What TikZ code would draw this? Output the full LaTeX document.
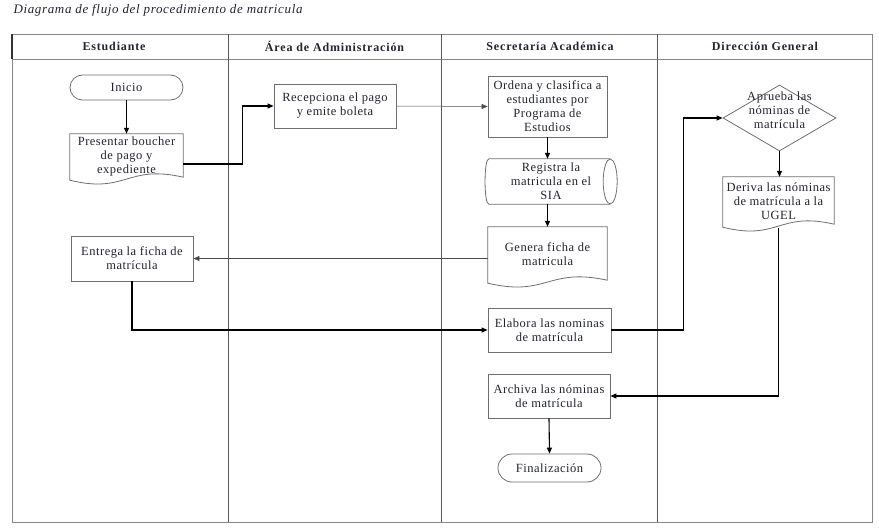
\documentclass[tikz,border=0pt]{standalone}
\usepackage{fontspec}
\setmainfont{Liberation Serif}[LetterSpace=4]
\newfontfamily\hdrfont{Liberation Serif}[LetterSpace=7]
\newfontfamily\ttlfont{Liberation Serif}[LetterSpace=5]
\usetikzlibrary{calc,shapes.geometric,arrows.meta}
\definecolor{txt}{RGB}{35,35,50}
\definecolor{frm}{RGB}{135,135,135}
\definecolor{shpc}{RGB}{110,110,110}
\newcommand\docpath[1]{\draw[shp] (#1.north west) -- (#1.north east) -- ($(#1.south east)+(0,-1)$) .. controls ($(#1.south)+(0,-14)$) and ($(#1.south)+(0,16)$) .. ($(#1.south west)+(0,2)$) -- cycle;}
\begin{document}
\begin{tikzpicture}[x=1pt,y=-1pt,
 every node/.style={text=txt,font=\fontsize{12.5}{14}\selectfont},
 box/.style={draw=shpc,line width=0.8pt,rectangle,inner sep=0pt,align=center},
 plain/.style={rectangle,inner sep=0pt,align=center},
 term/.style={draw=shpc,line width=0.8pt,rectangle,inner sep=0pt,align=center},
 hdr/.style={font={\hdrfont\fontsize{12}{14}\selectfont\bfseries}},
 shp/.style={draw=shpc,line width=0.8pt},
 arr/.style={draw=black,line width=1.1pt,-{Triangle[length=6pt,width=5pt]}},
 thinarr/.style={draw=black!70,line width=0.5pt,-{Triangle[length=6pt,width=5pt]}},
 lane/.style={draw=frm,line width=1pt}]
\useasboundingbox (0,0) rectangle (879,530);
% title
\node[anchor=west,font={\ttlfont\fontsize{13}{15}\selectfont\itshape}] (ttl) at (10,10) {Diagrama de flujo del procedimiento de matricula};
% lanes
\draw[lane] (12,34) rectangle (872,522);
\draw[lane] (12,59) -- (872,59);
\draw[lane,draw=black!65] (228,34) -- (228,522);
\draw[lane,draw=black!65] (441,34) -- (441,522);
\draw[lane,draw=black!65] (657,34) -- (657,522);
\draw[line width=1.6pt,black!80] (12,34) -- (12,59);
\node[hdr] (h1) at (114,46.5) {Estudiante};
\node[hdr] (h2) at (334.5,46.5) {Área de Administración};
\node[hdr] (h3) at (550,46.5) {Secretaría Académica};
\node[hdr] (h4) at (765,46.5) {Dirección General};
% nodes
\node[term,rounded corners=12.5pt,minimum width=113pt,minimum height=25pt] (ini) at (126.5,87.5) {Inicio};
\node[plain,minimum width=113pt,minimum height=44pt] (pres) at (126.5,156) {Presentar boucher\\de pago y\\expediente};
\docpath{pres}
\node[box,minimum width=122pt,minimum height=44pt] (rec) at (335,106) {Recepciona el pago\\y emite boleta};
\node[box,minimum width=119pt,minimum height=61pt] (ord) at (547.5,106.5) {Ordena y clasifica a\\estudiantes por\\Programa de\\Estudios};
\node[plain,minimum width=132pt,minimum height=45pt] (reg) at (551,181.5) {Registra la\\matricula en el\\SIA};
\draw[shp] ($(reg.north east)+(-7,0)$) -- ($(reg.north west)+(4,0)$) .. controls ($(reg.north west)+(-1,0)$) and ($(reg.south west)+(-1,0)$) .. ($(reg.south west)+(4,0)$) -- ($(reg.south east)+(-7,0)$);
\draw[shp] ($(reg.east)+(-7,0)$) ellipse [x radius=7pt,y radius=22.5pt];
\node[plain,minimum width=119pt,minimum height=54pt] (gen) at (547.5,254) {Genera ficha de\\matricula};
\docpath{gen}
\node[box,minimum width=122pt,minimum height=45pt] (ent) at (132,258.5) {Entrega la ficha de\\matrícula};
\node[box,minimum width=123pt,minimum height=44pt] (ela) at (549.5,330) {Elabora las nominas\\de matrícula};
\node[diamond,draw=shpc,line width=0.8pt,minimum width=113pt,minimum height=66pt,inner sep=0pt] (apr) at (779.5,118) {};
\node[plain] (aprt) at (779.5,110) {Aprueba las\\nóminas de\\matrícula};
\node[plain,minimum width=111pt,minimum height=48pt] (der) at (778.5,201) {Deriva las nóminas\\de matrícula a la\\UGEL};
\docpath{der}
\node[box,minimum width=122pt,minimum height=44pt] (arc) at (549,396) {Archiva las nóminas\\de matrícula};
\node[term,rounded corners=14pt,minimum width=103pt,minimum height=28pt] (fin) at (549.5,468) {Finalización};
% connectors
\draw[arr] (ini.south) -- (pres.north);
\draw[arr] ([yshift=-8pt]pres.east) -- ++(59,0) |- (rec.west);
\draw[thinarr] (rec.east) -- (ord.west);
\draw[arr] (ord.south) -- (ord.south |- reg.north);
\draw[arr] (gen.north |- reg.south) -- (gen.north);
\draw[thinarr] (gen.west |- ent.east) -- (ent.east);
\draw[arr] (ent.south) |- (ela.west);
\draw[arr] (ela.east) -- ++(72,0) |- (apr.west);
\draw[arr] (apr.south) -- (apr.south |- der.north);
\draw[arr] ([yshift=-3pt]der.south) |- (arc.east);
\draw[arr] (arc.south) -- (fin.north);
\end{tikzpicture}
\end{document}
